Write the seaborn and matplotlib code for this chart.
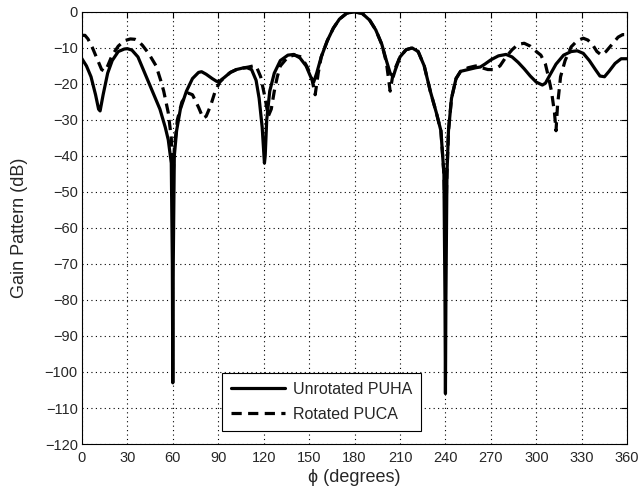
import pandas as pd
import seaborn as sns
import matplotlib
matplotlib.use('Agg')
import matplotlib.pyplot as plt
from matplotlib.lines import Line2D

# --- Data ---
phi_puha = [0, 3, 6, 9, 11, 12, 14, 17, 20, 24, 28, 30, 33, 37, 42, 47, 51.5, 55, 57, 59,
            59.7, 60, 60.3, 61, 62.5, 65, 69, 73, 77, 79, 82, 86, 89, 91, 94, 98, 102, 106,
            109, 112, 115, 117, 119, 120.5, 121, 122, 124, 127, 131, 136, 140, 144, 148, 151,
            153, 155, 158, 162, 166, 170, 175, 180, 185, 190, 194, 198, 201, 203.5, 205.5,
            207, 210, 214, 218, 222, 226, 230, 234, 237, 239, 239.7, 240, 240.3, 241, 242,
            244, 247, 250, 255, 260, 263, 266, 270, 275, 280, 284, 288, 292, 296, 300, 304,
            306, 309, 313, 318, 323, 327, 331, 335, 339, 342, 345, 348, 352, 356, 360]
gain_puha = [-13, -15, -18, -23, -27, -27.5, -23, -17, -13.5, -11, -10.3, -10.2, -10.6, -12.5,
             -17.5, -22.5, -27, -32, -35.5, -42, -70, -103, -70, -40, -33, -27, -22, -18.5,
             -16.8, -16.6, -17.3, -18.5, -19.3, -19.2, -18.2, -16.8, -16, -15.6, -15.5, -16,
             -19, -24, -32, -42, -40, -30, -22, -17, -13.5, -12, -11.8, -12.8, -15, -18,
             -19.5, -17, -12.5, -8, -4.5, -2, -0.3, 0, -0.4, -2.3, -5, -9, -13.5, -17, -18,
             -16, -12.5, -10.5, -10, -11, -15, -22, -28, -33, -45, -80, -106, -80, -45, -33,
             -24, -18.5, -16.5, -16, -15.5, -15.3, -14.5, -13.3, -12.2, -11.8, -12.5, -14,
             -15.8, -17.8, -19.5, -20.3, -19.8, -17.5, -14.5, -12, -11, -10.8, -11.5, -13.5,
             -16, -17.8, -18, -16.5, -14.3, -13, -13]

phi_puca = [0, 2, 4, 7, 10, 13, 15, 17, 20, 24, 28, 32, 35, 37, 40, 44, 49, 52, 54, 57, 59,
            59.7, 60, 60.3, 61, 63, 66, 70, 73, 77, 80, 82, 85, 88, 91, 94, 98, 102, 106, 110,
            113, 115, 118, 121, 123, 125, 127, 129, 131, 136, 140, 145, 149, 152, 154, 156,
            158, 162, 166, 170, 175, 180, 185, 190, 194, 198, 201, 203.5, 205.5, 207, 210,
            214, 218, 222, 226, 230, 234, 237, 239, 239.7, 240, 240.3, 241, 242, 244, 247,
            250, 255, 260, 264, 268, 272, 276, 280, 284, 288, 292, 296, 300, 303, 306, 308,
            310, 312, 313, 314, 316, 319, 323, 327, 331, 334, 337, 340, 343, 346, 350, 354,
            357, 360]
gain_puca = [-6.5, -6.5, -7.5, -10, -13, -16, -16.5, -15, -12, -9.5, -8, -7.5, -7.6, -8,
             -9.3, -11.5, -15, -19, -22, -28, -35, -45, -56, -45, -38, -30, -25, -22.5, -23,
             -26.5, -29.5, -29, -26, -22, -19.5, -18.2, -16.8, -16, -15.6, -15.3, -15, -15,
             -18, -24, -29, -27, -22, -18, -15, -12.5, -12, -12.5, -15.5, -19, -23, -17,
             -12.5, -8, -4.5, -2, -0.3, 0, -0.4, -2.3, -5, -9, -14, -22, -17, -15.5, -12.5,
             -10.5, -10, -11, -15, -22, -28, -33, -45, -56, -58, -56, -45, -33, -24, -18.5,
             -16.5, -15.5, -15, -15.5, -16, -16, -15, -12.5, -10.5, -9, -8.7, -9.5, -11, -12,
             -14.5, -18, -22, -28, -33, -26, -18, -13.5, -9.7, -8, -7.3, -7.8, -9, -11, -12,
             -11, -9, -7, -6.3, -6.3]

series_names = ['Unrotated PUHA', 'Rotated PUCA']
x_ticks = list(range(0, 361, 30))
y_ticks = list(range(-120, 1, 10))

df = pd.concat([
    pd.DataFrame({'phi': phi_puha, 'gain': gain_puha, 'series': series_names[0]}),
    pd.DataFrame({'phi': phi_puca, 'gain': gain_puca, 'series': series_names[1]}),
], ignore_index=True)

# --- Style ---
sns.set_style('white')
plt.rcParams['font.family'] = ['Liberation Sans', 'DejaVu Sans']
plt.rcParams['axes.unicode_minus'] = True

fig = plt.figure(figsize=(6.4, 4.91), dpi=100)
ax = fig.add_axes([0.128, 0.0957, 0.852, 0.88])

sns.lineplot(data=df, x='phi', y='gain', hue='series', style='series',
             hue_order=series_names, style_order=series_names,
             palette=['black', 'black'], dashes=[(None, None), (3.2, 2.0)],
             estimator=None, sort=False, linewidth=2.3, ax=ax, legend=False)

ax.set_xlim(0, 360)
ax.set_ylim(-120, 0)
ax.set_xticks(x_ticks)
ax.set_yticks(y_ticks)
ax.grid(True, color='black', linestyle=(0, (1, 3)), linewidth=0.8)
ax.tick_params(direction='in', top=True, right=True, labelsize=10.5, length=4,
               color='black')
ax.tick_params(axis='x', pad=5)
ax.tick_params(axis='y', pad=3)
for s in ax.spines.values():
    s.set_color('black')
    s.set_linewidth(0.8)

ax.set_xlabel('ϕ (degrees)', fontsize=13, labelpad=3)
ax.set_ylabel('Gain Pattern (dB)', fontsize=13, labelpad=12)

# legend box, MATLAB style
handles = [Line2D([], [], color='black', linewidth=2.3),
           Line2D([], [], color='black', linewidth=2.3, dashes=(3.2, 2.0))]
leg = ax.legend(handles, series_names, loc='lower center', bbox_to_anchor=(0.44, 0.012),
                fontsize=11.5, frameon=True, fancybox=False, framealpha=1,
                edgecolor='black', handlelength=3.4, borderpad=0.55, labelspacing=0.65,
                handletextpad=0.5)
leg.get_frame().set_linewidth(0.8)

fig.savefig('out.png', dpi=100, facecolor='white')
